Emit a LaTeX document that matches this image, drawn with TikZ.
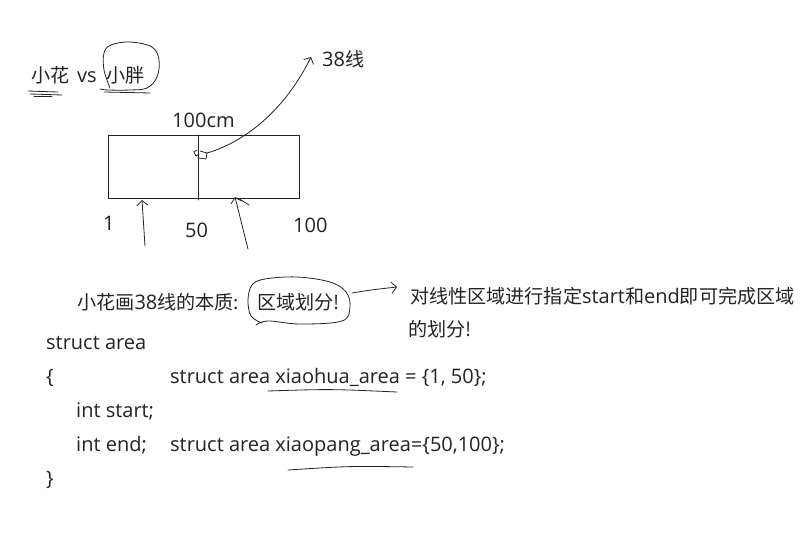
\documentclass[tikz,border=0pt]{standalone}
\usepackage{fontspec}
\setmainfont{Open Sans}
\newfontfamily\cjk{Noto Sans CJK SC}[Scale=0.955]
\usetikzlibrary{arrows.meta}
\definecolor{ink}{RGB}{35,35,35}

\begin{document}
\begin{tikzpicture}[x=1pt, y=-1pt,
    every node/.style={font=\fontsize{20}{24}\selectfont, text=ink, inner sep=0pt, anchor=base west},
    pen/.style={draw=ink, line width=0.8pt, line cap=round, line join=round},
    penarrow/.style={pen, -{Straight Barb[length=5pt,width=11pt]}}]
  \useasboundingbox[fill=white] (0,0) rectangle (804,538);
  % title: who gets which half
  \node (hua) at (31,82) {\cjk 小花};
  \node (vs) at (77,82) {vs};
  \node (pang) at (106,82) {\cjk 小胖};
  \draw[pen] (28,91) -- (58,92);
  \draw[pen] (30,94) -- (62,95);
  \draw[pen] (34,96) -- (52,96);
  \draw[pen] plot[smooth, tension=0.6] coordinates {(110,88) (104,70) (104,53) (111,45) (130,42) (152,47) (159,60) (157,77) (147,88) (130,90) (108,90) (100,89)};
  \draw[pen] (104,92) -- (150,93);
  % the desk
  \node (len) at (172,127) {100cm};
  \draw[pen] (108,135) rectangle (299,198);
  \draw[pen] (198,135) -- (198,200);
  \coordinate (mark) at (207,153);
  \draw[pen] (197,150) -- (194,152) -- (196,156) -- (199,154) (198,158) -- (206,159) -- (207,153) -- (200,151);
  % line 38
  \node (lbl38) at (322,66) {38{\cjk 线}};
  \coordinate (tip38) at (311,57);
  \draw[penarrow] (mark) .. controls (245,142) and (285,110) .. (tip38);
  % end numbers
  \node (n1) at (103,230) {1};
  \node (n50) at (185,237) {50};
  \node (n100) at (293,232) {100};
  \coordinate (foot1) at (145,246);
  \coordinate (head1) at (142,200);
  \draw[penarrow] (foot1) -- (head1);
  \coordinate (foot2) at (248,249);
  \coordinate (head2) at (235,197);
  \draw[penarrow] (foot2) -- (head2);
  \draw[pen] (238,198) -- (249,205);
  % essence of the split
  \node (essence) at (77,309) {{\cjk 小花画}38{\cjk 线的本质:}};
  \node (split) at (257,309) {\cjk 区域划分!};
  \draw[pen] plot[smooth, tension=0.6] coordinates {(262,323) (251,316) (248,300) (252,285) (265,279) (297,277) (330,282) (346,292) (350,307) (342,321) (300,324) (268,321) (256,325)};
  \node (note) at (410,303) {{\cjk 对线性区域进行指定}start{\cjk 和}end{\cjk 即可完成区域}};
  \node (note2) at (408,336) {\cjk 的划分!};
  \draw[penarrow] (352,293) .. controls (370,290) .. (397,287);
  % code
  \node (c1) at (46,349) {struct area};
  \node (c2) at (46,383) {\{};
  \node (c3) at (76,417) {int start;};
  \node (c4) at (76,451) {int end;};
  \node (c5) at (46,485) {\}};
  \node (hua area) at (170,383) {struct area xiaohua\_area = \{1, 50\};};
  \node (pang area) at (170,451) {struct area xiaopang\_area=\{50,100\};};
  \draw[pen] (268,391) .. controls (330,389) .. (397,392);
  \draw[pen] (288,470) .. controls (350,466) .. (413,467);
\end{tikzpicture}
\end{document}
